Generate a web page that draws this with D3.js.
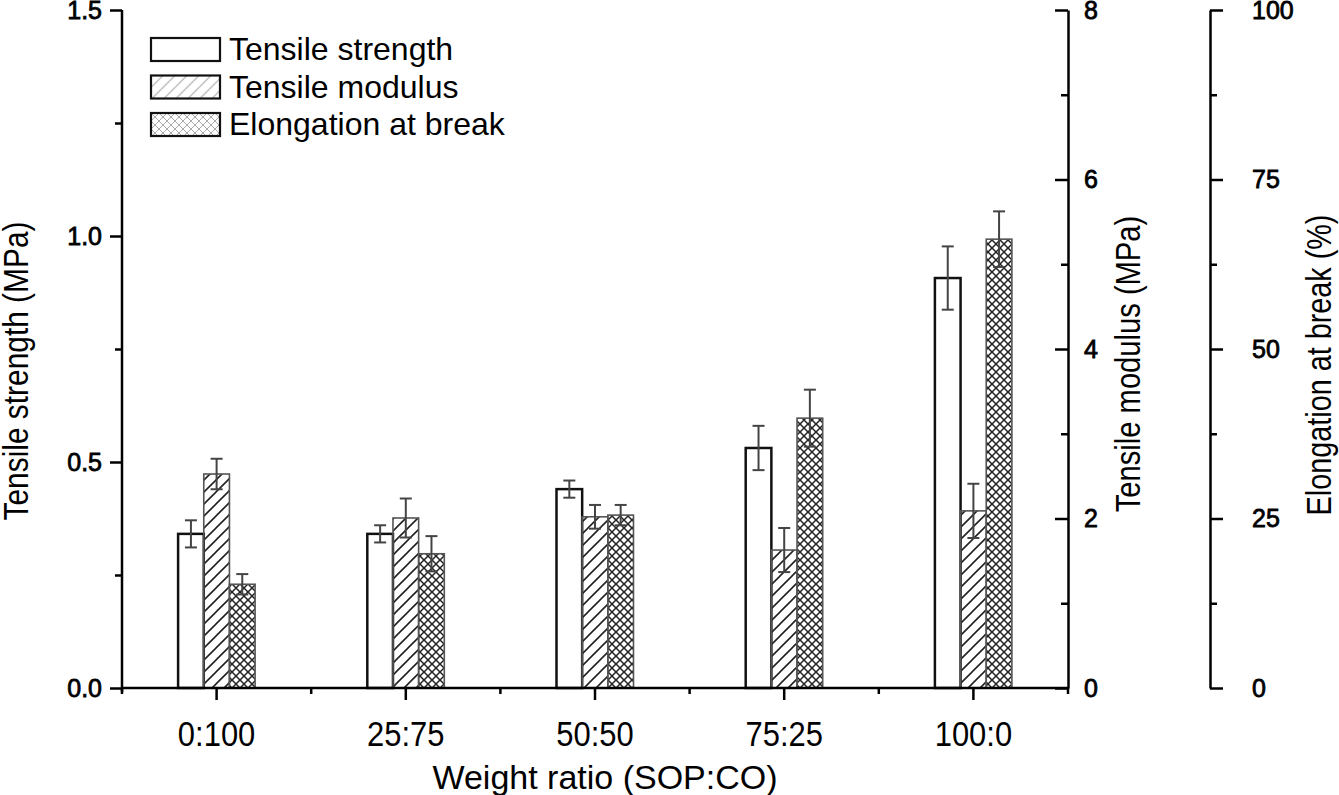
<!DOCTYPE html>
<html>
<head>
<meta charset="utf-8">
<script src="https://cdn.jsdelivr.net/npm/d3@7"></script>
<style>
body{margin:0;background:#fff;}
svg text{font-family:"Liberation Sans",Arial,sans-serif;fill:#000;}
</style>
</head>
<body>
<svg id="chart" width="1339" height="795"></svg>
<script>
// data
var categories=["0:100","25:75","50:50","75:25","100:0"];
var tensileStrength=[0.341,0.341,0.44,0.531,0.907];
var tensileStrengthErr=[0.03,0.019,0.019,0.049,0.07];
var tensileModulus=[2.525,2.006,2.02,1.628,2.09];
var tensileModulusErr=[0.18,0.23,0.14,0.26,0.32];
var elongation=[15.3,19.8,25.5,39.8,66.2];
var elongationErr=[1.5,2.6,1.5,4.2,4.1];
var seriesNames=["Tensile strength","Tensile modulus","Elongation at break"];
var tsTicks=[0,0.5,1.0,1.5];
var tmTicks=[0,2,4,6,8];
var elTicks=[0,25,50,75,100];

var svg=d3.select("#chart");
// note: "top" is taken by window.top, so use other names
var plotLeft=122,plotRight=1068,plotTop=10,plotBottom=688,axis2=1210;

var x=d3.scaleBand().domain(categories).range([plotLeft,plotRight]).padding(0);
var xs=d3.scaleBand().domain([0,1,2]).range([-38.5,38.5]).padding(0);
var yTS=d3.scaleLinear().domain([0,1.5]).range([plotBottom,plotTop]);
var yTM=d3.scaleLinear().domain([0,8]).range([plotBottom,plotTop]);
var yEL=d3.scaleLinear().domain([0,100]).range([plotBottom,plotTop]);

// patterns
var defs=svg.append("defs");
function hatch(id,color,w){
    var p=defs.append("pattern").attr("id",id).attr("patternUnits","userSpaceOnUse")
        .attr("width",12).attr("height",12);
    p.append("path").attr("d","M-3,3L3,-3M0,12L12,0M9,15L15,9")
        .attr("stroke",color).attr("stroke-width",w);
}
function cross(id,color,w){
    var p=defs.append("pattern").attr("id",id).attr("patternUnits","userSpaceOnUse")
        .attr("width",8).attr("height",8);
    p.append("path").attr("d","M0,0L8,8M8,0L0,8")
        .attr("stroke",color).attr("stroke-width",w);
}
hatch("hatch","#222",1.6);
cross("cross","#222",1.5);
hatch("hatchL","#aaa",1.1);
cross("crossL","#aaa",1.0);

var series=[
    {vals:tensileStrength,err:tensileStrengthErr,y:yTS,fill:"#fff",stroke:"#111",sw:2.5},
    {vals:tensileModulus,err:tensileModulusErr,y:yTM,fill:"url(#hatch)",stroke:"#555",sw:1.6},
    {vals:elongation,err:elongationErr,y:yEL,fill:"url(#cross)",stroke:"#555",sw:1.6}
];

// bars
series.forEach(function(s,si){
    var g=svg.append("g");
    categories.forEach(function(c,i){
        var cx=x(c)+x.bandwidth()/2+xs(si);
        g.append("rect").attr("x",cx).attr("width",xs.bandwidth())
            .attr("y",s.y(s.vals[i])).attr("height",plotBottom-s.y(s.vals[i]))
            .attr("fill",s.fill).attr("stroke",s.stroke).attr("stroke-width",s.sw);
    });
});

// error bars
series.forEach(function(s,si){
    var g=svg.append("g").attr("stroke","#444").attr("stroke-width",2);
    categories.forEach(function(c,i){
        var cx=x(c)+x.bandwidth()/2+xs(si)+xs.bandwidth()/2;
        var y1=s.y(s.vals[i]+s.err[i]),y2=s.y(s.vals[i]-s.err[i]);
        g.append("line").attr("x1",cx).attr("x2",cx).attr("y1",y1).attr("y2",y2);
        g.append("line").attr("x1",cx-6).attr("x2",cx+6).attr("y1",y1).attr("y2",y1);
        g.append("line").attr("x1",cx-6).attr("x2",cx+6).attr("y1",y2).attr("y2",y2);
    });
});

function styleAxis(g){
    g.selectAll("path,line").attr("stroke","#000").attr("stroke-width",2.5);
    g.selectAll("text").attr("font-size",25).attr("stroke","#000").attr("stroke-width",0.8)
        .style("font-family","'Liberation Sans',Arial,sans-serif");
}
function mids(t){
    var m=[];
    for(var i=0;i<t.length-1;i++){m.push((t[i]+t[i+1])/2);}
    return m;
}

// left axis
var gl=svg.append("g").attr("transform","translate("+plotLeft+",0)");
gl.call(d3.axisLeft(yTS).tickValues(tsTicks).tickFormat(d3.format(".1f")).tickSize(12).tickPadding(8).tickSizeOuter(0));
gl.append("g").call(d3.axisLeft(yTS).tickValues(mids(tsTicks)).tickFormat("").tickSize(7)).select(".domain").remove();
styleAxis(gl);
gl.select(".domain").attr("d","M0,"+(plotBottom+4)+"V"+plotTop);

// modulus axis, ticks inward
var gm=svg.append("g").attr("transform","translate("+plotRight+",0)");
gm.call(d3.axisRight(yTM).tickValues(tmTicks).tickSize(0).tickPadding(16).tickSizeOuter(0));
gm.append("g").call(d3.axisLeft(yTM).tickValues(tmTicks).tickFormat("").tickSize(13)).select(".domain").remove();
gm.append("g").call(d3.axisLeft(yTM).tickValues(mids(tmTicks)).tickFormat("").tickSize(7)).select(".domain").remove();
styleAxis(gm);
gm.selectAll("text").attr("text-anchor","start");

// elongation axis
var ge=svg.append("g").attr("transform","translate("+axis2+",0)");
ge.call(d3.axisRight(yEL).tickValues(elTicks).tickSize(13).tickPadding(29).tickSizeOuter(0));
ge.append("g").call(d3.axisRight(yEL).tickValues(mids(elTicks)).tickFormat("").tickSize(7)).select(".domain").remove();
styleAxis(ge);

// bottom axis
var gb=svg.append("g").attr("transform","translate(0,"+plotBottom+")");
gb.call(d3.axisBottom(x).tickSize(12).tickSizeOuter(0).tickFormat(""));
var bounds=categories.map(function(c){return x(c);}).concat([plotRight]);
gb.selectAll(".minor").data(bounds).enter().append("line").attr("class","minor")
    .attr("x1",function(d){return d;}).attr("x2",function(d){return d;})
    .attr("y1",0).attr("y2",6);
styleAxis(gb);
gb.select(".domain").attr("d","M"+plotLeft+",0H"+plotRight);

// category labels (condensed)
svg.append("g").selectAll("text").data(categories).enter().append("text")
    .attr("transform",function(d){return "translate("+(x(d)+x.bandwidth()/2)+",746) scale(0.86,1)";})
    .attr("text-anchor","middle").attr("font-size",36).text(function(d){return d;});

// axis titles
svg.append("text").attr("transform","translate(605,789)").attr("text-anchor","middle")
    .attr("font-size",34).text("Weight ratio (SOP:CO)");
svg.append("text").attr("transform","translate(28,371) rotate(-90) scale(0.83,1)").attr("text-anchor","middle")
    .attr("font-size",36).text("Tensile strength (MPa)");
svg.append("text").attr("transform","translate(1140,364) rotate(-90) scale(0.81,1)").attr("text-anchor","middle")
    .attr("font-size",36).text("Tensile modulus (MPa)");
svg.append("text").attr("transform","translate(1331,365) rotate(-90) scale(0.8,1)").attr("text-anchor","middle")
    .attr("font-size",36).text("Elongation at break (%)");

// legend
var legendFill=["#fff","url(#hatchL)","url(#crossL)"];
var lg=svg.append("g").attr("transform","translate(151,38)");
seriesNames.forEach(function(n,i){
    var row=lg.append("g").attr("transform","translate(0,"+(i*37.5)+")");
    row.append("rect").attr("width",69).attr("height",23).attr("fill",legendFill[i])
        .attr("stroke","#111").attr("stroke-width",2.2);
    row.append("text").attr("x",78).attr("y",22).attr("font-size",32).text(n);
});
</script>
</body>
</html>
